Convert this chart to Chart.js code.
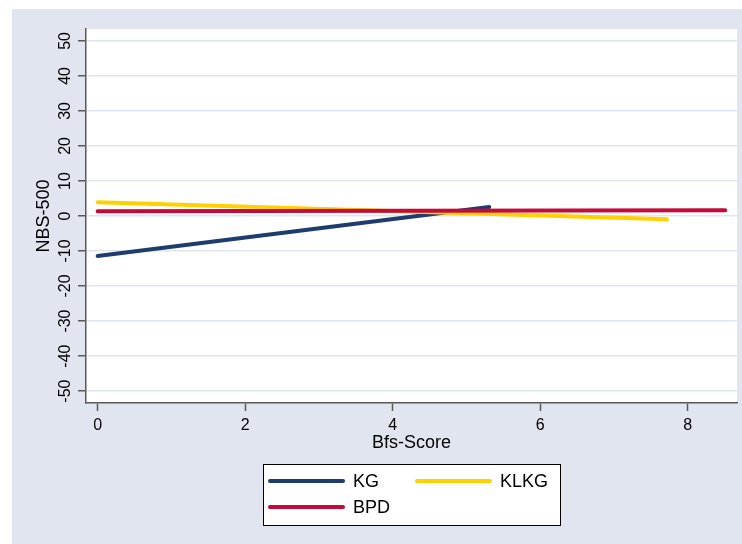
<!DOCTYPE html>
<html>
<head>
<meta charset="utf-8">
<script src="https://cdn.jsdelivr.net/npm/chart.js@4.4.1/dist/chart.umd.min.js"></script>
<style>
  html, body { margin: 0; padding: 0; background: #ffffff; }
  #wrap { width: 742px; height: 544px; position: relative; }
</style>
</head>
<body>
<div id="wrap"><canvas id="c" width="742" height="544"></canvas></div>
<script>
// Fitted lines of NBS-500 against Bfs-Score, one per group
const seriesNames = ['KG', 'KLKG', 'BPD'];
const kgX   = [0, 5.31];
const kgY   = [-11.4, 2.6];
const klkgX = [0, 7.72];
const klkgY = [3.9, -0.95];
const bpdX  = [0, 8.51];
const bpdY  = [1.35, 1.65];

const xTicks = [0, 2, 4, 6, 8];
const yTicks = [-50, -40, -30, -20, -10, 0, 10, 20, 30, 40, 50];
const xTitle = 'Bfs-Score';
const yTitle = 'NBS-500';

const colors = ['#1E3C6E', '#FFD100', '#C30A38'];
const BG = '#E1E5F0';
const AXIS = '#5A5A5A';
const FONT = '"Liberation Sans", Arial, sans-serif';

function pts(xs, ys) { return xs.map((x, i) => ({ x: x, y: ys[i] })); }

const datasets = [
  { label: seriesNames[0], data: pts(kgX, kgY), order: 3 },
  { label: seriesNames[1], data: pts(klkgX, klkgY), order: 2 },
  { label: seriesNames[2], data: pts(bpdX, bpdY), order: 1 }
].map((d, i) => Object.assign(d, {
  borderColor: colors[i],
  backgroundColor: colors[i],
  borderWidth: 4,
  borderCapStyle: 'round',
  pointRadius: 0,
  tension: 0,
  fill: false
}));

// Page background and white plot region
const backdrop = {
  id: 'backdrop',
  beforeDraw(chart) {
    const ctx = chart.ctx, a = chart.chartArea;
    ctx.save();
    ctx.fillStyle = '#ffffff';
    ctx.fillRect(0, 0, chart.width, chart.height);
    ctx.fillStyle = BG;
    ctx.fillRect(12, 9, chart.width - 12, chart.height - 9);
    ctx.fillStyle = '#ffffff';
    ctx.fillRect(a.left, a.top, a.right - a.left, a.bottom - a.top);
    ctx.restore();
  }
};

// Rotated y tick labels, axis titles and the boxed legend
const decorations = {
  id: 'decorations',
  afterDraw(chart) {
    const ctx = chart.ctx, a = chart.chartArea;
    const ys = chart.scales.y;
    ctx.save();
    ctx.fillStyle = '#000000';
    ctx.textAlign = 'center';
    ctx.textBaseline = 'middle';

    ctx.font = '16px ' + FONT;
    yTicks.forEach(v => {
      const py = ys.getPixelForValue(v);
      ctx.save();
      ctx.translate(66, py);
      ctx.rotate(-Math.PI / 2);
      ctx.fillText(String(v), 0, 0);
      ctx.restore();
    });

    ctx.font = '18px ' + FONT;
    ctx.save();
    ctx.translate(44, (a.top + a.bottom) / 2);
    ctx.rotate(-Math.PI / 2);
    ctx.fillText(yTitle, 0, 0);
    ctx.restore();

    ctx.fillText(xTitle, (a.left + a.right) / 2, 443);

    // legend box
    const bx = 263, by = 464, bw = 297, bh = 61;
    ctx.fillStyle = '#ffffff';
    ctx.fillRect(bx, by, bw, bh);
    ctx.strokeStyle = '#000000';
    ctx.lineWidth = 1;
    ctx.strokeRect(bx + 0.5, by + 0.5, bw, bh);

    const slots = [
      { lx: 270, ty: 481 },
      { lx: 417, ty: 481 },
      { lx: 270, ty: 507 }
    ];
    chart.data.datasets.forEach((d, i) => {
      const s = slots[i];
      ctx.strokeStyle = d.borderColor;
      ctx.lineWidth = 4;
      ctx.lineCap = 'round';
      ctx.beginPath();
      ctx.moveTo(s.lx, s.ty);
      ctx.lineTo(s.lx + 73, s.ty);
      ctx.stroke();
      ctx.fillStyle = '#000000';
      ctx.textAlign = 'left';
      ctx.font = '18px ' + FONT;
      ctx.fillText(d.label, s.lx + 83, s.ty + 1);
    });
    ctx.restore();
  }
};

new Chart(document.getElementById('c'), {
  type: 'line',
  data: { datasets: datasets },
  plugins: [backdrop, decorations],
  options: {
    responsive: false,
    animation: false,
    devicePixelRatio: 1,
    layout: { padding: { left: 0, top: 29, right: 5, bottom: 0 } },
    plugins: { legend: { display: false }, tooltip: { enabled: false } },
    scales: {
      x: {
        type: 'linear',
        min: -0.158,
        max: 8.67,
        afterBuildTicks: s => { s.ticks = xTicks.map(v => ({ value: v })); },
        afterFit: s => { s.height = 141; },
        grid: {
          display: true,
          drawOnChartArea: false,
          drawTicks: true,
          tickLength: 8,
          tickColor: AXIS,
          tickWidth: 1.5
        },
        border: { display: true, color: AXIS, width: 1.5 },
        ticks: {
          color: '#000000',
          font: { family: FONT, size: 16 },
          padding: 5,
          maxRotation: 0,
          minRotation: 0
        }
      },
      y: {
        type: 'linear',
        min: -53.4,
        max: 53.4,
        afterBuildTicks: s => { s.ticks = yTicks.map(v => ({ value: v })); },
        afterFit: s => { s.width = 86; },
        grid: {
          display: true,
          drawOnChartArea: true,
          color: BG,
          lineWidth: 1.5,
          drawTicks: true,
          tickLength: 8,
          tickColor: AXIS,
          tickWidth: 1.5
        },
        border: { display: true, color: AXIS, width: 1.5 },
        ticks: { display: false }
      }
    }
  }
});
</script>
</body>
</html>
